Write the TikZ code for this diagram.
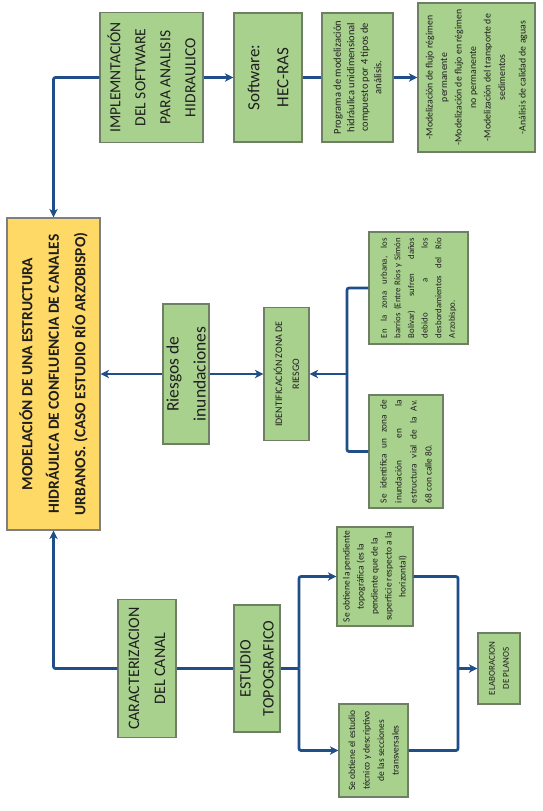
\documentclass[tikz,border=0pt]{standalone}
\usepackage{fontspec}
\setmainfont{Carlito}
\usetikzlibrary{arrows.meta}
\definecolor{gfill}{HTML}{A9D18E}
\definecolor{gdraw}{HTML}{6F7F66}
\definecolor{yfill}{HTML}{FFD966}
\definecolor{ydraw}{HTML}{7F7F7F}
\definecolor{arrc}{HTML}{1F4E89}
\definecolor{txt}{HTML}{1E1E1E}
\begin{document}
\begin{tikzpicture}[x=1pt,y=-1pt,
  gbox/.style 2 args={draw=gdraw, fill=gfill, line width=1.2pt, inner sep=0pt, minimum width=#1, minimum height=#2},
  ybox/.style 2 args={draw=ydraw, fill=yfill, line width=1.2pt, inner sep=0pt, minimum width=#1, minimum height=#2},
  vtext/.style={rotate=90, align=center, text=txt, inner sep=0pt},
  ln/.style={draw=arrc, line width=2.7pt, rounded corners=2pt},
  arr/.style={ln, -{Stealth[length=8.5pt,width=8.5pt,inset=2.5pt]}}]
\fill[white] (0,0) rectangle (543,811);
\useasboundingbox (0,0) rectangle (543,811);

% main box
\node[ybox={93pt}{312pt}] (main) at (53.5,374) {};
\node[vtext, font=\bfseries\fontsize{15.5}{26.5}\selectfont] (maint) at (main.center)
  {MODELACIÓN DE UNA ESTRUCTURA\\HIDRÁULICA DE CONFLUENCIA DE CANALES\\URBANOS. (CASO ESTUDIO RÍO ARZOBISPO)};

% top row
\node[gbox={103pt}{130pt}] (impl) at (151.5,77.5) {};
\node[vtext, font=\fontsize{15.5}{25}\selectfont] (implt) at (impl.center)
  {IMPLEMNTACIÓN\\DEL SOFTWARE\\PARA ANALISIS\\HIDRAULICO};
\node[gbox={68pt}{129pt}] (soft) at (268,77.5) {};
\node[vtext, font=\fontsize{17}{29}\selectfont] (softt) at (soft.center)
  {Software:\\HEC-RAS};
\node[gbox={71pt}{129pt}] (prog) at (357.5,77.5) {};
\node[vtext, font=\fontsize{10.5}{13.5}\selectfont] (progt) at (prog.center)
  {Programa de modelización\\hidráulica unidimensional\\compuesto por 4 tipos de\\análisis.};
\node[gbox={117pt}{149pt}] (mods) at (476.5,77.5) {};
\node[vtext, font=\fontsize{9.8}{14.5}\selectfont] (modst) at (mods.center)
  {-Modelización de flujo régimen\\permanente\\-Modelización de flujo en régimen\\no permanente\\-Modelización del transporte de\\sedimentos\\[6pt]-Análisis de calidad de aguas};

% middle row
\node[gbox={46pt}{140pt}] (ries) at (186,374) {};
\node[vtext, font=\fontsize{17.5}{27}\selectfont] (riest) at (ries.center)
  {Riesgos de\\inundaciones};
\node[gbox={45pt}{133pt}] (ident) at (286.5,374) {};
\node[vtext, font=\fontsize{10}{17}\selectfont] (identt) at (ident.center)
  {IDENTIFICACIÓN ZONA DE\\RIESGO};
\node[gbox={99pt}{112pt}] (zona) at (418.5,288) {};
\node[vtext, font=\fontsize{8.8}{13.6}\selectfont] (zonat) at (zona.center)
  {\parbox{100pt}{En la zona urbana, los\linebreak barrios (Entre Ríos y Simón\linebreak Bolívar) sufren daños\linebreak debido a los\linebreak desbordamientos del Río\linebreak Arzobispo.}};
\node[gbox={74pt}{113pt}] (seid) at (406,451.5) {};
\node[vtext, font=\fontsize{9.3}{15}\selectfont] (seidt) at (seid.center)
  {\parbox{103pt}{Se identifica un zona de\linebreak inundación en la\linebreak estructura vial de la Av.\linebreak 68 con calle 80.}};

% bottom row
\node[gbox={58pt}{138pt}] (carac) at (147,668.5) {};
\node[vtext, font=\fontsize{16}{26}\selectfont] (caract) at (carac.center)
  {CARACTERIZACION\\DEL CANAL};
\node[gbox={46pt}{127pt}] (estu) at (257,668.5) {};
\node[vtext, font=\fontsize{16}{23}\selectfont] (estut) at (estu.center)
  {ESTUDIO\\TOPOGRAFICO};
\node[gbox={76pt}{99pt}] (pend) at (375,576.5) {};
\node[vtext, font=\fontsize{9.5}{14}\selectfont] (pendt) at (pend.center)
  {Se obtiene la pendiente\\topográfica (es la\\pendiente que de la\\superficie respecto a la\\horizontal)};
\node[gbox={69pt}{93pt}] (estd) at (373.5,750.5) {};
\node[vtext, font=\fontsize{9.5}{14.5}\selectfont] (estdt) at (estd.center)
  {Se obtiene el estudio\\técnico y descriptivo\\de las secciones\\transversales};
\node[gbox={42pt}{71pt}] (elab) at (499,668.5) {};
\node[vtext, font=\fontsize{9}{14}\selectfont] (elabt) at (elab.center)
  {ELABORACION\\DE PLANOS};

% connectors
\draw[arr] (impl.west) -| (main.north);
\draw[arr] (impl.east) -- (soft.west);
\draw[ln] (soft.east) -- (prog.west);
\draw[arr] (prog.east) -- (mods.west);

\draw[arr] (ries.west) -- (main.east);
\draw[arr] (ries.east) -- (ident.west);
\coordinate (j1) at (347,374);
\draw[ln] (zona.west) -| (j1) |- (seid.west);
\draw[arr] (j1) -- (ident.east);

\draw[arr] (carac.west) -| (main.south);
\draw[ln] (carac.east) -- (estu.west);
\coordinate (j2) at (299,668.5);
\draw[ln] (estu.east) -- (j2);
\draw[arr] (j2) |- (pend.west);
\draw[arr] (j2) |- (estd.west);
\coordinate (j3) at (458,668.5);
\draw[ln] (pend.east) -| (j3) |- (estd.east);
\draw[arr] (j3) -- (elab.west);
\end{tikzpicture}
\end{document}
